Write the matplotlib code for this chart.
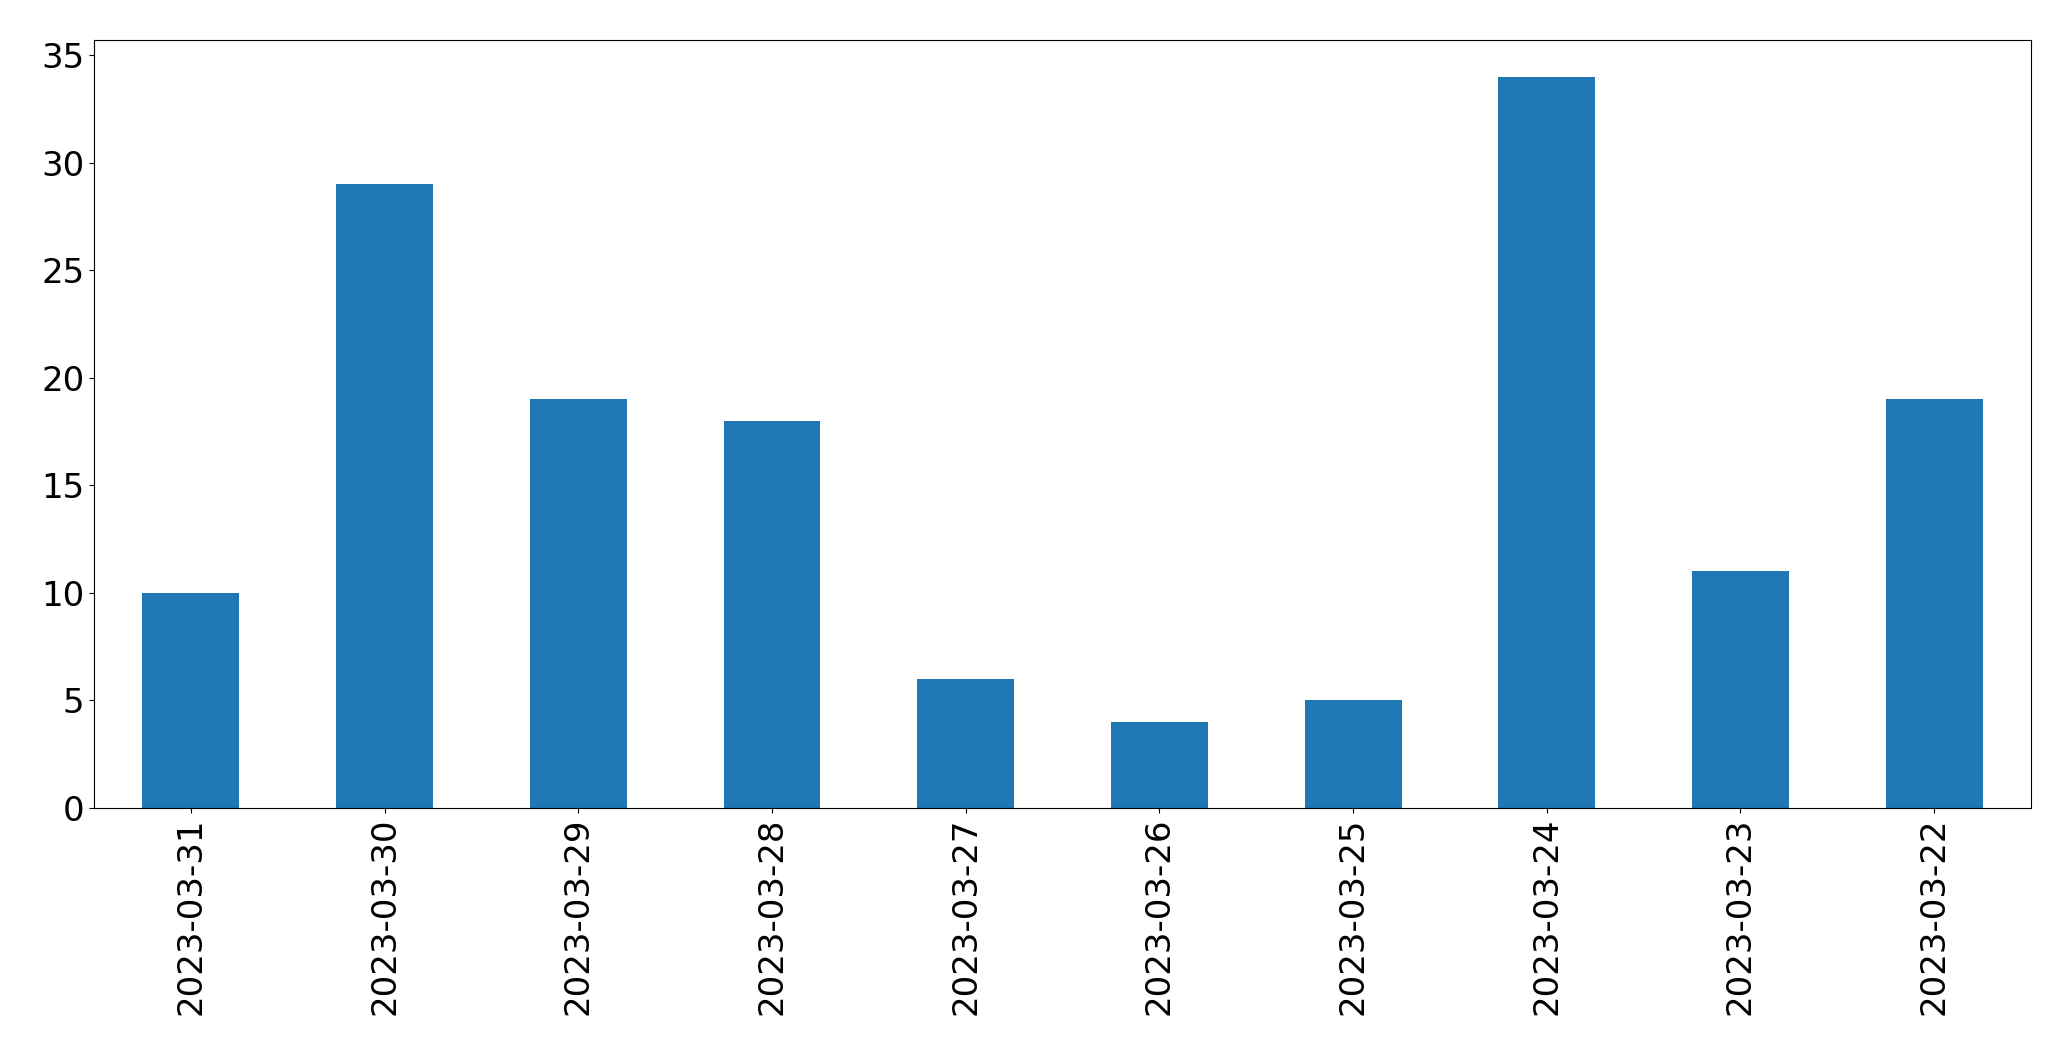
import matplotlib
matplotlib.use("Agg")
import matplotlib.pyplot as plt

# daily counts, in the order shown (newest first)
dates = ["2023-03-31", "2023-03-30", "2023-03-29", "2023-03-28", "2023-03-27",
         "2023-03-26", "2023-03-25", "2023-03-24", "2023-03-23", "2023-03-22"]
counts = [10, 29, 19, 18, 6, 4, 5, 34, 11, 19]

fig = plt.figure(figsize=(20.71, 10.61), dpi=100)
ax = fig.add_axes([0.0454, 0.2385, 0.9353, 0.7238])

x = range(len(dates))
ax.bar(x, counts, width=0.5, color="#1f77b4")
ax.set_xlim(-0.5, len(dates) - 0.5)
ax.set_ylim(0, max(counts) * 1.05)
ax.set_xticks(list(x))
ax.set_xticklabels(dates, rotation=90)
ax.tick_params(axis="both", labelsize=24.5)

fig.savefig("out.png", dpi=100)
